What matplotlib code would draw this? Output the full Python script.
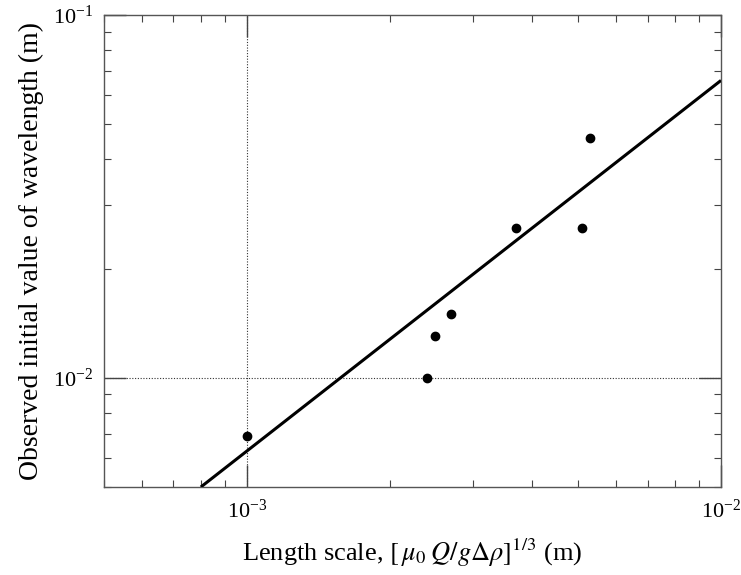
import matplotlib
matplotlib.use('Agg')
import matplotlib.pyplot as plt
from matplotlib.ticker import LogLocator, NullFormatter, FixedLocator

plt.rcParams['font.family'] = 'serif'
plt.rcParams['font.serif'] = ['Liberation Serif', 'DejaVu Serif']
plt.rcParams['mathtext.fontset'] = 'stix'

# observed points
length_scale = [1.0e-3, 2.40e-3, 2.50e-3, 2.69e-3, 3.69e-3, 5.10e-3, 5.29e-3]
wavelength = [6.9e-3, 1.00e-2, 1.30e-2, 1.50e-2, 2.58e-2, 2.58e-2, 4.57e-2]

# fitted line (end points)
fit_x = [8.0e-4, 1.0e-2]
fit_y = [5.0e-3, 6.6e-2]

xlim = (5e-4, 1e-2)
ylim = (5e-3, 1e-1)
ref_x = 1e-3
ref_y = 1e-2

fig = plt.figure(figsize=(7.41, 5.75), dpi=100)
ax = fig.add_axes([0.1404, 0.153, 0.8326, 0.821])

ax.set_xscale('log')
ax.set_yscale('log')
ax.set_xlim(*xlim)
ax.set_ylim(*ylim)

ax.axvline(ref_x, color='#333333', lw=0.8, ls=(0, (1, 1.5)), zorder=1)
ax.axhline(ref_y, color='#333333', lw=0.8, ls=(0, (1, 1.5)), zorder=1)

ax.plot(fit_x, fit_y, color='black', lw=2.2, solid_capstyle='butt', zorder=3)
ax.plot(length_scale, wavelength, 'o', color='black', ms=6, zorder=4)

ax.xaxis.set_major_locator(FixedLocator([1e-3, 1e-2]))
ax.yaxis.set_major_locator(FixedLocator([1e-2, 1e-1]))
ax.xaxis.set_minor_locator(LogLocator(base=10, subs=range(2, 10)))
ax.yaxis.set_minor_locator(LogLocator(base=10, subs=range(2, 10)))
ax.xaxis.set_minor_formatter(NullFormatter())
ax.yaxis.set_minor_formatter(NullFormatter())

ax.tick_params(which='both', direction='in', top=True, right=True,
               color='#444444', labelsize=16)
ax.tick_params(which='major', length=16, width=1)
ax.tick_params(which='minor', length=5, width=0.8)
ax.tick_params(axis='x', which='major', pad=9)
ax.tick_params(axis='y', which='major', pad=8)

for s in ax.spines.values():
    s.set_color('#555555')
    s.set_linewidth(1.0)

ax.set_xlabel(r'Length scale, $[\,\mu_0\;Q/g\Delta\rho]^{1/3}$ (m)', fontsize=19, labelpad=10)
ax.set_ylabel('Observed initial value of wavelength (m)', fontsize=20, labelpad=6)

fig.savefig('out.png', dpi=100)
